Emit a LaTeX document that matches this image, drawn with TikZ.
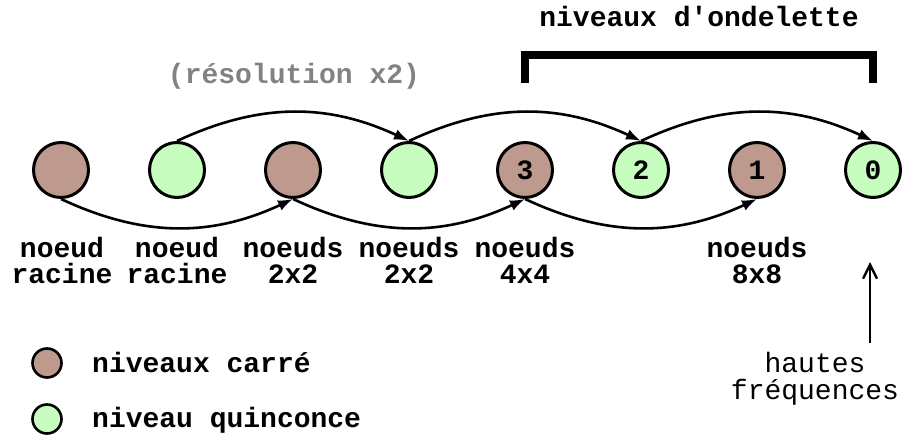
\documentclass[tikz,border=0pt]{standalone}
\usepackage{fontspec}
\setmonofont{Liberation Mono}
\usepackage{tikz}
\usetikzlibrary{arrows.meta, positioning}
\definecolor{brun}{RGB}{190, 154, 142}
\definecolor{vert}{RGB}{200, 253, 192}
\definecolor{gristxt}{RGB}{130, 130, 130}
\tikzset{
    niv/.style   ={circle, draw=black, line width=3pt, minimum size=55pt,
                   inner sep=0pt, font=\fontsize{28}{28}\selectfont\ttfamily\bfseries},
    carre/.style ={niv, fill=brun},
    quinc/.style ={niv, fill=vert},
    leg/.style   ={circle, draw=black, line width=2.6pt, minimum size=29pt, inner sep=0pt},
    lbl/.style   ={font=\fontsize{28}{26}\selectfont\ttfamily\bfseries,
                   align=center, inner sep=0pt, anchor=base},
    lblr/.style  ={lbl, font=\fontsize{28}{27}\selectfont\ttfamily},
    ar/.style    ={-{Latex[length=15pt, width=11pt]}, line width=2.6pt},
    fl/.style    ={-{Straight Barb[length=14pt, width=14pt]}, line width=2.4pt},
    brk/.style   ={line width=8pt}
}

\begin{document}
\begin{tikzpicture}[x=1pt, y=1pt]
  \useasboundingbox (0,0) rectangle (902,438);

  % niveaux
  \node[carre] (n1) at ( 61,268) {};
  \node[quinc] (n2) at (177,268) {};
  \node[carre] (n3) at (293,268) {};
  \node[quinc] (n4) at (409,268) {};
  \node[carre] (n5) at (525,268) {3};
  \node[quinc] (n6) at (641,268) {2};
  \node[carre] (n7) at (757,268) {1};
  \node[quinc] (n8) at (873,268) {0};

  \draw[ar] (n2.north) to[bend left=25] (n4.north);
  \draw[ar] (n4.north) to[bend left=25] (n6.north);
  \draw[ar] (n6.north) to[bend left=25] (n8.north);
  \draw[ar] (n1.south) to[bend right=25] (n3.south);
  \draw[ar] (n3.south) to[bend right=25] (n5.south);
  \draw[ar] (n5.south) to[bend right=25] (n7.south);

  % ondelettes
  \coordinate (b1) at (525,355);
  \coordinate (b2) at (873,355);
  \draw[brk] (b1) |- (699,383) -| (b2);
  \node[lbl] (ond) at (699,411) {niveaux d'ondelette};
  \node[lbl, text=gristxt] (res) at (294,354) {(résolution x2)};

  % etiquettes
  \node[lbl] (e1) at ( 62,154) {noeud\\racine};
  \node[lbl] (e2) at (177,154) {noeud\\racine};
  \node[lbl] (e3) at (293,154) {noeuds\\2x2};
  \node[lbl] (e4) at (409,154) {noeuds\\2x2};
  \node[lbl] (e5) at (525,154) {noeuds\\4x4};
  \node[lbl] (e7) at (757,154) {noeuds\\8x8};

  \node[lblr] (hf) at (815,38) {hautes\\fréquences};
  \coordinate (hfbas) at (870,95);
  \coordinate (hfhaut) at (870,176);
  \draw[fl] (hfbas) -- (hfhaut);

  % legende
  \node[leg, fill=brun] (lc) at (47,75) {};
  \node[leg, fill=vert] (lq) at (47,19) {};
  \node[lbl, anchor=base west] (tc) at (92,65) {niveaux carré};
  \node[lbl, anchor=base west] (tq) at (92,10) {niveau quinconce};
\end{tikzpicture}
\end{document}
